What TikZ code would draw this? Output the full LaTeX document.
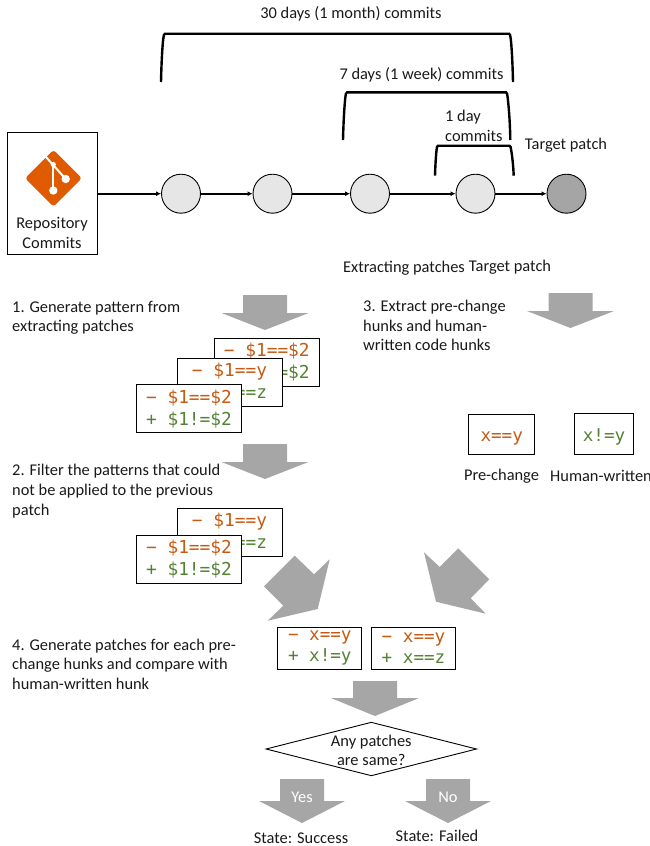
\documentclass[tikz,border=0pt]{standalone}
\usepackage{fontspec}
\setmainfont{Carlito}
\newfontfamily\codefont{DejaVu Sans Mono}
\usetikzlibrary{arrows.meta,shapes.geometric}
\definecolor{delcol}{HTML}{C55A11}
\definecolor{addcol}{HTML}{548235}
\definecolor{blockgray}{HTML}{A6A6A6}
\definecolor{commitfill}{HTML}{E7E6E6}
\definecolor{targetfill}{HTML}{A5A5A5}
\definecolor{gitorange}{HTML}{E05A00}
\newcommand{\blockarrow}[7]{% cx, top, shoulder, tip, shaft half, head half
  \fill[blockgray] (#1-#5,#2) -- (#1+#5,#2) -- (#1+#5,#3) -- (#1+#6,#3) -- (#1,#4) -- (#1-#6,#3) -- (#1-#5,#3) -- cycle;}
\newcommand{\dl}[1]{\textcolor{delcol}{#1}}
\newcommand{\ad}[1]{\textcolor{addcol}{#1}}
\tikzset{
  lbl/.style={font=\fontsize{16.4}{19.6}\selectfont,inner sep=0pt,text=black!90,yshift=-1.2pt},
  lbll/.style={lbl,align=left,anchor=west},
  lblc/.style={lbl,align=center},
  commit/.style={circle,draw=black,line width=0.9pt,fill=commitfill,minimum size=39pt,inner sep=0pt},
  target/.style={commit,fill=targetfill},
  flow/.style={line width=1.8pt,-{Latex[length=5pt,width=5pt]}},
  brace/.style={line width=2.4pt,line cap=butt,rounded corners=2pt},
  hunk/.style={draw=black,line width=0.9pt,fill=white,inner sep=0pt,align=left,
    execute at begin node={\rule{0pt}{18pt}},
    font=\codefont\fontsize{17.8}{22}\selectfont},
  twoline/.style={execute at begin node={\rule{0pt}{22pt}}},
  patbox/.style={hunk,twoline,minimum width=105pt,minimum height=48pt},
  resbox/.style={hunk,twoline,minimum width=84pt,minimum height=42.6pt,font=\codefont\fontsize{17.6}{21.4}\selectfont},
  onebox/.style={hunk,minimum height=40.3pt,font=\codefont\fontsize{17.6}{21}\selectfont},
}
\begin{document}
\begin{tikzpicture}[x=1pt,y=-1pt]
\useasboundingbox (0,0) rectangle (650,846);

% repository box and logo
\node[draw=black,line width=0.9pt,fill=white,minimum width=90.5pt,minimum height=122.5pt,inner sep=0pt] (repo) at (52.2,193.2) {};
\fill[gitorange,rounded corners=3pt] (53.5,149.9) -- (81.9,178.3) -- (53.5,206.7) -- (25.1,178.3) -- cycle;
\draw[white,line width=2pt] (45.7,156.7) -- (65.7,179);
\draw[white,line width=2pt] (53.3,163.5) -- (53.3,190.5);
\fill[white] (53.3,190.5) circle (4.2) (65.7,179) circle (4.2) (53.3,164.5) circle (2.6);
\node[lblc] (repotext) at (52,232) {Repository\\Commits};

% commits
\node[commit] (c1) at (181,193.7) {};
\node[commit] (c2) at (272.5,193.7) {};
\node[commit] (c3) at (370,193.7) {};
\node[commit] (c4) at (475.5,193.7) {};
\node[target] (c5) at (566.5,193.7) {};
\draw[flow] (repo.east |- c1.west) -- (c1.west);
\draw[flow] (c1) -- (c2);
\draw[flow] (c2) -- (c3);
\draw[flow] (c3) -- (c4);
\draw[flow] (c4) -- (c5);

% brackets
\draw[brace] (161,82) .. controls (161.5,60) and (162.5,45) .. (163.5,37) .. controls (164,34.5) and (164.5,33.7) .. (167,33.7) -- (507,33.7) .. controls (509.5,33.7) and (510,34.5) .. (510.5,37) .. controls (511.5,45) and (512.5,60) .. (513,82);
\draw[brace] (343,140) .. controls (343.5,120) and (344.5,105) .. (345.5,96) .. controls (346,93) and (346.5,92.3) .. (349,92.3) -- (504,92.3) .. controls (506.5,92.3) and (507,93) .. (507.5,96) .. controls (508.5,105) and (510,120) .. (510.3,140);
\draw[brace] (435,175.7) .. controls (435.3,165) and (436,155) .. (436.7,149) .. controls (437,146.5) and (437.5,145.7) .. (440,145.7) -- (507.5,145.7) .. controls (510,145.7) and (510.5,146.5) .. (511,149) .. controls (512,155) and (513.3,165) .. (513.7,175.7);

\node[lbl] (t30) at (351,13) {30 days (1 month) commits};
\node[lbl] (t7) at (421.5,74) {7 days (1 week) commits};
\node[lbll] (t1) at (445,124.5) {1 day\\commits};
\node[lbl] (ttp) at (566,144) {Target patch};
\node[lbl] (tex) at (404,267) {Extracting patches};
\node[lbl] (ttp2) at (510,266) {Target patch};

% step texts
\node[lbll] (s1) at (12,316.5) {1. Generate pattern from\\extracting patches};
\node[lbll] (s2) at (12,490) {2. Filter the patterns that could\\not be applied to the previous\\patch};
\node[lbll] (s3) at (363,324.5) {3. Extract pre-change\\hunks and human-\\written code hunks};
\node[lbll] (s4) at (12,663) {4. Generate patches for each pre-\\change hunks and compare with\\human-written hunk};

% block arrows
\blockarrow{265}{295}{313}{330}{22}{43.5}{}
\blockarrow{265}{444}{462}{479}{22}{43.5}{}
\blockarrow{570.5}{293}{311}{328}{22}{43.5}{}
\blockarrow{375}{681}{698}{716}{22}{44}{}
\blockarrow{302}{779}{801}{823}{22}{43}{}
\blockarrow{448}{779}{801}{823}{22}{43}{}
\fill[blockgray] (294.7,555.7) -- (264,586.3) -- (283.3,605.7) -- (267.7,620.7) -- (317.7,609) -- (329.7,559.3) -- (314,574.3) -- cycle;
\fill[blockgray] (458.3,548.3) -- (489.3,579.3) -- (470.7,598.3) -- (485.7,613.7) -- (436,601.7) -- (424,552.3) -- (439.7,567) -- cycle;

% pattern stacks
\node[patbox] (p1) at (266.8,362.3) {\dl{− \$1==\$2}\\\ad{+ \$1!=\$2}};
\node[patbox] (p2) at (229.5,382) {\dl{− \$1==y}\\\ad{+ \$1==z}};
\node[patbox] (p3) at (189,408.7) {\dl{− \$1==\$2}\\\ad{+ \$1!=\$2}};
\node[patbox] (q2) at (229.5,532.5) {\dl{− \$1==y}\\\ad{+ \$1==z}};
\node[patbox] (q3) at (189,559.2) {\dl{− \$1==\$2}\\\ad{+ \$1!=\$2}};

% hunks
\node[onebox,minimum width=66pt] (pre) at (501.7,434.2) {\dl{x==y}};
\node[onebox,minimum width=59.4pt] (hum) at (604,433.9) {\ad{x!=y}};
\node[lbl] (tpre) at (501.5,475) {Pre-change};
\node[lbl,anchor=west] (thum) at (550,475) {Human-written};

% result patches
\node[resbox] (r1) at (319.8,648.3) {\dl{− x==y}\\\ad{+ x!=y}};
\node[resbox] (r2) at (413.5,648.3) {\dl{− x==y}\\\ad{+ x==z}};

% decision
\node[diamond,draw=black,line width=0.9pt,fill=white,aspect=3.9,minimum width=210.7pt,minimum height=53.7pt,inner sep=0pt] (dec) at (371.3,749) {};
\node[lblc] (dectext) at (dec.center) {Any patches\\are same?};

\node[lbl,text=white] (yes) at (302,796) {Yes};
\node[lbl,text=white] (no) at (448,796) {No};
\node[lbl] (ok) at (301,837) {State: Success};
\node[lbl] (fail) at (437,835) {State: Failed};
\end{tikzpicture}
\end{document}
